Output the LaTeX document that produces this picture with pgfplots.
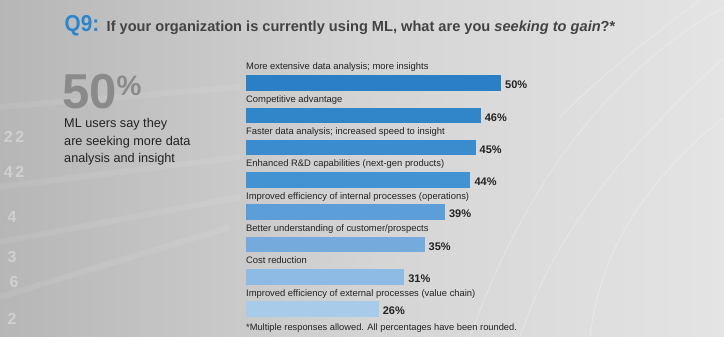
\documentclass[border=0pt]{standalone}
\usepackage{pgfplots}
\pgfplotsset{compat=1.18}
\usepackage{pgfplotstable}
\usepackage{graphicx}
\usepackage{fontspec}
\setmainfont{Liberation Sans}
\definecolor{qblue}{HTML}{2A86CF}
\definecolor{cA}{HTML}{2B7FC4}
\definecolor{cB}{HTML}{3086C8}
\definecolor{cC}{HTML}{3A8CCF}
\definecolor{cD}{HTML}{4393D2}
\definecolor{cE}{HTML}{5C9FD8}
\definecolor{cF}{HTML}{74AADC}
\definecolor{cG}{HTML}{8DBBE4}
\definecolor{cH}{HTML}{A8CBEA}
\definecolor{bgL}{HTML}{B6B6B6}
\definecolor{bgM}{HTML}{D4D4D4}
\definecolor{bgR}{HTML}{E4E4E4}
\definecolor{txt}{HTML}{222222}
\definecolor{big}{HTML}{8A8A8A}
\begin{document}
\begin{tikzpicture}[x=1pt,y=1pt]
\shade[left color=bgL, right color=bgR, middle color=bgM] (0,0) rectangle (724,337);
% soft light streaks (decoration)
\begin{scope}[white, opacity=0.08, line width=6pt]
\clip (0,0) rectangle (724,337);
\draw (0,230) -- (240,250);
\draw (0,150) -- (240,180);
\draw (0,95) -- (240,140);
\draw (0,40) -- (230,110);
\end{scope}
\begin{scope}[white, opacity=0.3, line width=0.8pt]
\clip (0,0) rectangle (724,337);
\draw (724,280) .. controls (640,200) and (560,120) .. (520,0);
\draw (724,220) .. controls (650,160) and (600,90) .. (590,0);
\draw (724,330) .. controls (600,260) and (520,140) .. (470,0);
\draw (700,337) .. controls (650,300) and (600,260) .. (560,220);
\end{scope}
% faint background digits (decoration, far left only)
\begin{scope}[white, opacity=0.35, font=\fontsize{16}{16}\bfseries]
\node at (14,200) {2\,2};
\node at (14,165) {4\,2};
\node at (12,120) {4};
\node at (12,80) {3};
\node at (14,55) {6};
\node at (12,18) {2};
\end{scope}
% title
\node[anchor=base west, inner sep=0] at (64.5,305.5) {\scalebox{0.9}[1]{\fontsize{23}{23}\selectfont\bfseries\color{qblue}Q9:}};
\node[anchor=base west, inner sep=0] at (106.5,305.5) {\fontsize{14.6}{14.6}\selectfont\bfseries\color{txt!85!white}If your organization is currently using ML, what are you \textit{seeking to gain}?*};
% left callout
\node[anchor=base west, inner sep=0] at (62,228) {\fontsize{49}{49}\selectfont\bfseries\color{big}50\raisebox{13.6pt}{\fontsize{28}{28}\selectfont\%}};
\begin{scope}[font=\fontsize{12.7}{12.7}\selectfont, txt, inner sep=0]
\node[anchor=base west] at (64,209.3) {ML users say they};
\node[anchor=base west] at (64,191.7) {are seeking more data};
\node[anchor=base west] at (64,174) {analysis and insight};
\end{scope}
% footnote
\node[anchor=base west, inner sep=0, font=\fontsize{9.3}{9.3}\selectfont, txt] at (246,6) {*Multiple responses allowed. All percentages have been rounded.};
\begin{axis}[
  at={(246pt,11.75pt)}, anchor=south west,
  scale only axis, width=357pt, height=258.4pt,
  xmin=0, xmax=70, ymin=-0.5, ymax=7.5,
  y dir=reverse, axis lines=none, clip=false,
  xbar, bar width=15.5pt, bar shift=0pt,
  point meta=x,
  /pgf/number format/assume math mode=true,
  nodes near coords={\pgfmathprintnumber{\pgfplotspointmeta}\%},
  every node near coord/.append style={font=\fontsize{11}{11}\selectfont\bfseries, text=txt, anchor=west, inner sep=0pt, xshift=4pt, yshift=-2pt},
]
\addplot[fill=cA, draw=none] coordinates {(50,0)};
\addplot[fill=cB, draw=none] coordinates {(46,1)};
\addplot[fill=cC, draw=none] coordinates {(45,2)};
\addplot[fill=cD, draw=none] coordinates {(44,3)};
\addplot[fill=cE, draw=none] coordinates {(39,4)};
\addplot[fill=cF, draw=none] coordinates {(35,5)};
\addplot[fill=cG, draw=none] coordinates {(31,6)};
\addplot[fill=cH, draw=none] coordinates {(26,7)};
\begin{scope}[font=\fontsize{9.4}{9.4}\selectfont, text=txt]
\node[anchor=base west, inner sep=0, yshift=13pt] at (axis cs:0,0) {More extensive data analysis; more insights};
\node[anchor=base west, inner sep=0, yshift=13pt] at (axis cs:0,1) {Competitive advantage};
\node[anchor=base west, inner sep=0, yshift=13pt] at (axis cs:0,2) {Faster data analysis; increased speed to insight};
\node[anchor=base west, inner sep=0, yshift=13pt] at (axis cs:0,3) {Enhanced R\&D capabilities (next-gen products)};
\node[anchor=base west, inner sep=0, yshift=13pt] at (axis cs:0,4) {Improved efficiency of internal processes (operations)};
\node[anchor=base west, inner sep=0, yshift=13pt] at (axis cs:0,5) {Better understanding of customer/prospects};
\node[anchor=base west, inner sep=0, yshift=13pt] at (axis cs:0,6) {Cost reduction};
\node[anchor=base west, inner sep=0, yshift=13pt] at (axis cs:0,7) {Improved efficiency of external processes (value chain)};
\end{scope}
\end{axis}
\end{tikzpicture}
\end{document}
